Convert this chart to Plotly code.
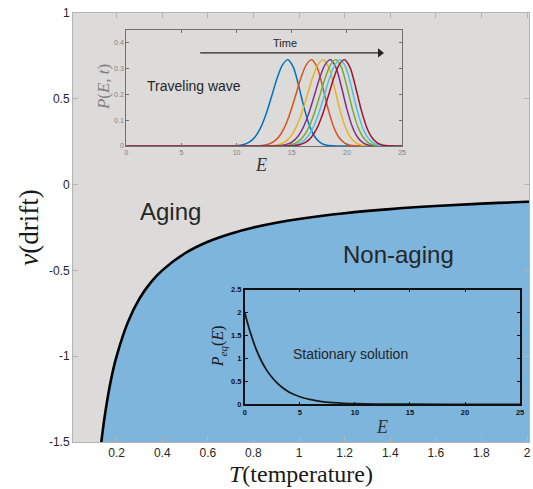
import plotly.graph_objects as go

# ---- phase boundary v*(T) between aging and non-aging regimes ----
T_boundary = [0.125, 0.133, 0.15, 0.175, 0.2, 0.25, 0.3, 0.35, 0.4, 0.5, 0.6, 0.7,
              0.8, 0.9, 1.0, 1.2, 1.4, 1.6, 1.8, 2.0, 2.02]
v_boundary = [-1.6, -1.5, -1.33, -1.14, -1.0, -0.80, -0.665, -0.57, -0.50, -0.40,
              -0.333, -0.286, -0.25, -0.222, -0.20, -0.167, -0.143, -0.125, -0.111,
              -0.10, -0.099]
V_FLOOR = -1.6

# ---- traveling-wave inset: one profile shape, shifted in E over time ----
wave_offsets = [-5, -4.5, -4, -3.5, -3, -2.5, -2, -1.5, -1, -0.5, 0,
                0.5, 1, 1.5, 2, 2.5, 3, 3.5, 4]
wave_profile = [0.0006, 0.0019, 0.0057, 0.0147, 0.0337, 0.068, 0.121, 0.189, 0.260,
                0.314, 0.335, 0.305, 0.230, 0.143, 0.074, 0.032, 0.011, 0.003, 0.0007]
wave_centers = [14.65, 16.8, 17.85, 18.5, 19.0, 19.4, 19.78]
wave_colors = ["#0072BD", "#D95319", "#EDB120", "#7E2F8E", "#77AC30", "#4DBEEE", "#A2142F"]

# ---- stationary-solution inset ----
E_eq = [0, 0.5, 1, 1.5, 2, 2.5, 3, 3.5, 4, 5, 6, 7, 8, 9, 10, 12, 15, 20, 25]
P_eq = [2.0, 1.57, 1.22, 0.95, 0.74, 0.58, 0.45, 0.35, 0.27, 0.165, 0.10, 0.06,
        0.037, 0.022, 0.013, 0.005, 0.001, 0.0, 0.0]

x_ticks = [0.2, 0.4, 0.6, 0.8, 1.0, 1.2, 1.4, 1.6, 1.8, 2.0]
x_ticktext = ["0.2", "0.4", "0.6", "0.8", "1", "1.2", "1.4", "1.6", "1.8", "2"]
y_ticks = [-1.5, -1.0, -0.5, 0, 0.5, 1.0]
y_ticktext = ["-1.5", "-1", "-0.5", "0", "0.5", "1"]

GRAY_BG = "#dcdbda"
BLUE = "#7db5dd"
SANS = "Liberation Sans, Arial, sans-serif"
SERIF = "Liberation Serif, Times New Roman, serif"
TXT = "#262626"

fig = go.Figure()

# non-aging region: fill between the floor and the boundary
fig.add_trace(go.Scatter(x=T_boundary, y=[V_FLOOR] * len(T_boundary), mode="lines",
                         line=dict(width=0), hoverinfo="skip", showlegend=False,
                         xaxis="x", yaxis="y"))
fig.add_trace(go.Scatter(x=T_boundary, y=v_boundary, mode="lines", fill="tonexty",
                         fillcolor=BLUE, line=dict(color="black", width=2.6, shape="spline"),
                         showlegend=False, xaxis="x", yaxis="y"))

# traveling-wave profiles
for c, col in zip(wave_centers, wave_colors):
    xs = [0, c - 5.5] + [c + o for o in wave_offsets] + [c + 4.5, 25]
    ys = [0, 0] + wave_profile + [0, 0]
    fig.add_trace(go.Scatter(x=xs, y=ys, mode="lines",
                             line=dict(color=col, width=1.5, shape="spline", smoothing=0.8),
                             showlegend=False, xaxis="x2", yaxis="y2"))

# "Time" arrow above the profiles
fig.add_trace(go.Scatter(x=[6.7, 23.0], y=[0.361, 0.361], mode="lines",
                         line=dict(color=TXT, width=1.2), hoverinfo="skip",
                         showlegend=False, xaxis="x2", yaxis="y2"))
fig.add_trace(go.Scatter(x=[23.0], y=[0.361], mode="markers",
                         marker=dict(symbol="triangle-right", size=8, color=TXT),
                         hoverinfo="skip", showlegend=False, xaxis="x2", yaxis="y2"))

# stationary distribution
fig.add_trace(go.Scatter(x=E_eq, y=P_eq, mode="lines",
                         line=dict(color="#1a1a1a", width=1.8, shape="spline"),
                         showlegend=False, xaxis="x3", yaxis="y3"))

main_axis = dict(showgrid=False, zeroline=False, showline=True, linecolor="#b4b4b4",
                 linewidth=1, mirror="ticks", ticks="inside", ticklen=5,
                 tickcolor="#b4b4b4", tickfont=dict(family=SANS, size=12, color=TXT))
in1_axis = dict(showgrid=False, zeroline=False, showline=True, linecolor="#707070",
                linewidth=1, mirror="ticks", ticks="inside", ticklen=3,
                tickcolor="#707070", tickfont=dict(family=SANS, size=7, color="#808080"))
in2_axis = dict(showgrid=False, zeroline=False, showline=True, linecolor="#111111",
                linewidth=1.5, mirror="ticks", ticks="inside", ticklen=3,
                tickcolor="#111111",
                tickfont=dict(family=SANS, size=7.5, color="#111111", weight="bold"))

fig.update_layout(
    width=533, height=489, autosize=False,
    margin=dict(l=73, r=0, t=13, b=47),
    paper_bgcolor="white", plot_bgcolor="rgba(0,0,0,0)",
    xaxis=dict(main_axis, domain=[0, 1], range=[0.0087, 2.0087], tickvals=x_ticks,
               ticktext=x_ticktext, anchor="y"),
    yaxis=dict(main_axis, domain=[0, 1], range=[-1.5, 1.0], tickvals=y_ticks,
               ticktext=y_ticktext, anchor="x"),
    xaxis2=dict(in1_axis, domain=[0.1167, 0.7217], range=[0, 25],
                tickvals=[0, 5, 10, 15, 20, 25], anchor="y2", ticklabelstandoff=0),
    yaxis2=dict(in1_axis, domain=[0.690, 0.9604], range=[0, 0.45],
                tickvals=[0, 0.1, 0.2, 0.3, 0.4], anchor="x2", ticklabelstandoff=0),
    xaxis3=dict(in2_axis, domain=[0.3767, 0.9804], range=[0, 25],
                tickvals=[0, 5, 10, 15, 20, 25], anchor="y3", ticklabelstandoff=0),
    yaxis3=dict(in2_axis, domain=[0.0879, 0.355], range=[0, 2.5],
                tickvals=[0, 0.5, 1, 1.5, 2, 2.5], anchor="x3", ticklabelstandoff=0),
    shapes=[dict(type="rect", xref="x domain", yref="y domain", x0=0, x1=1, y0=0, y1=1,
                 fillcolor=GRAY_BG, line=dict(width=0), layer="below")],
)

ann = [
    # main axis titles
    dict(text="<i>T</i>(temperature)", xref="paper", yref="paper", x=0.5, y=-0.1085,
         showarrow=False, font=dict(family=SERIF, size=24, color="#1a1a1a"),
         xanchor="center", yanchor="bottom"),
    dict(text="<i>v</i>(drift)", xref="paper", yref="paper", x=-0.098, y=0.5,
         textangle=-90, showarrow=False, font=dict(family=SERIF, size=27, color="#1a1a1a"),
         xanchor="center", yanchor="middle"),
    # regime labels
    dict(text="Aging", xref="x", yref="y", x=0.436, y=-0.157, showarrow=False,
         font=dict(family=SANS, size=24, color=TXT)),
    dict(text="Non-aging", xref="x", yref="y", x=1.437, y=-0.41, showarrow=False,
         font=dict(family=SANS, size=24, color=TXT)),
    # inset 1 texts
    dict(text="Traveling wave", xref="x2", yref="y2", x=6.1, y=0.231, showarrow=False,
         font=dict(family=SANS, size=14, color=TXT)),
    dict(text="Time", xref="x2", yref="y2", x=14.4, y=0.398, showarrow=False,
         font=dict(family=SANS, size=11, color=TXT)),
    dict(text="<i>P</i>(<i>E</i>, <i>t</i>)", xref="paper", yref="paper", x=0.066,
         y=0.8275, textangle=-90, showarrow=False,
         font=dict(family=SERIF, size=17, color="#808080"),
         xanchor="center", yanchor="middle"),
    dict(text="<i>E</i>", xref="paper", yref="paper", x=0.4124, y=0.645, showarrow=False,
         font=dict(family=SERIF, size=18, color="#333333"),
         xanchor="center", yanchor="middle"),
    # inset 2 texts
    dict(text="Stationary solution", xref="x3", yref="y3", x=9.6, y=1.10, showarrow=False,
         font=dict(family=SANS, size=14, color=TXT)),
    dict(text="<i>P</i><sub><i>eq</i></sub>(<i>E</i>)", xref="paper", yref="paper",
         x=0.3207, y=0.2238, textangle=-90, showarrow=False,
         font=dict(family=SERIF, size=16, color="#1a1a1a"),
         xanchor="center", yanchor="middle"),
    dict(text="<i>E</i>", xref="paper", yref="paper", x=0.678, y=0.035, showarrow=False,
         font=dict(family=SERIF, size=18, color="#333333"),
         xanchor="center", yanchor="middle"),
]
fig.update_layout(annotations=ann)

fig.write_html("out.html", config={"displayModeBar": False})
